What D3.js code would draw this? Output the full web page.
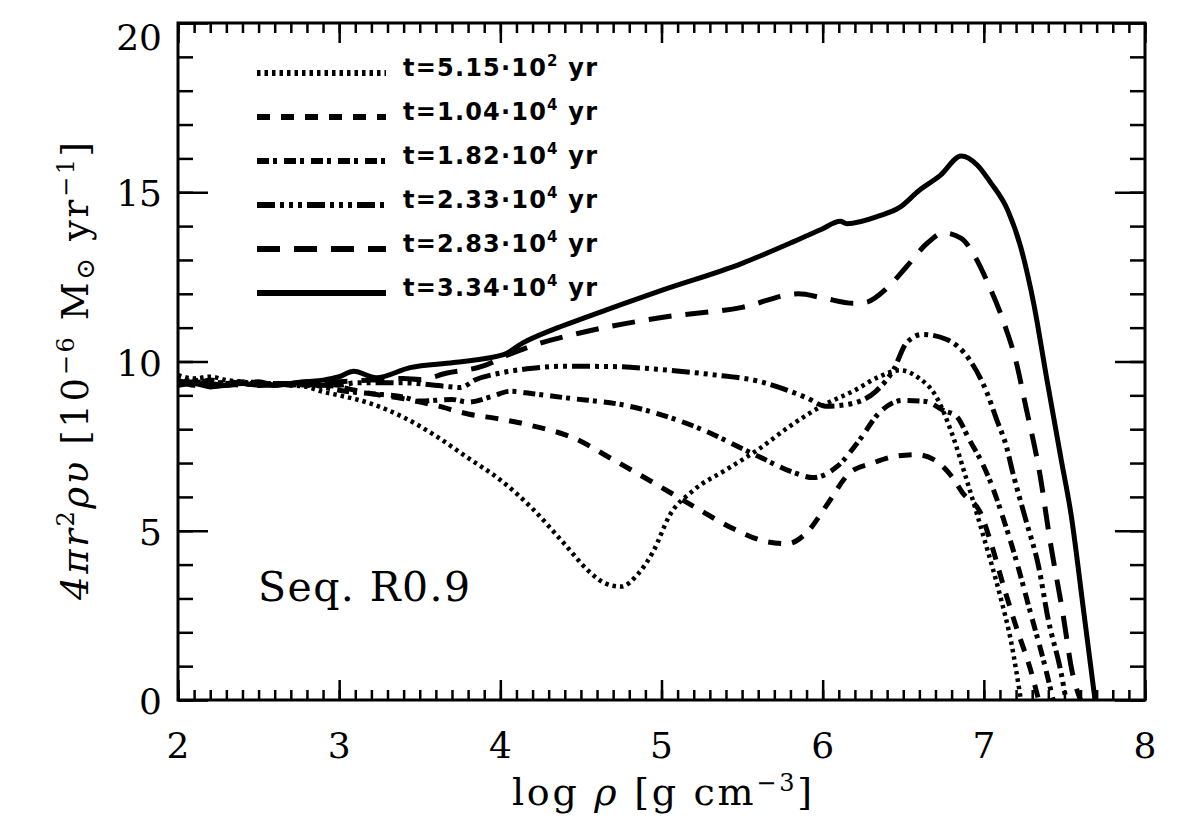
<!DOCTYPE html>
<html>
<head>
<meta charset="utf-8">
<script src="https://cdn.jsdelivr.net/npm/d3@7"></script>
<style>
  html, body { margin: 0; padding: 0; background: #fff; }
  svg { display: block; }
</style>
</head>
<body>
<div id="chart"></div>
<script>
// data -----------------------------------------------------------
var seriesLabels = ["5.15", "1.04", "1.82", "2.33", "2.83", "3.34"];
var seriesExp = ["2", "4", "4", "4", "4", "4"];

var xDot = [2.0,2.1,2.2,2.3,2.4,2.5,2.6,2.7,2.8,2.9,3.0,3.2,3.4,3.6,3.8,4.0,4.2,4.4,4.55,4.65,4.75,4.85,4.95,5.05,5.2,5.4,5.6,5.8,6.0,6.2,6.35,6.48,6.6,6.7,6.8,6.9,7.0,7.1,7.17,7.23];
var yDot = [9.6,9.5,9.55,9.45,9.4,9.35,9.35,9.3,9.25,9.1,9.0,8.75,8.35,7.8,7.15,6.5,5.65,4.6,3.8,3.45,3.35,3.7,4.4,5.45,6.2,6.8,7.4,8.1,8.7,9.15,9.55,9.74,9.5,9.0,7.9,6.4,4.8,3.1,1.7,0];

var xDash = [2.0,2.1,2.2,2.3,2.4,2.5,2.6,2.7,2.8,2.9,3.0,3.1,3.2,3.4,3.6,3.8,4.0,4.2,4.45,4.7,4.95,5.2,5.45,5.65,5.78,5.9,6.02,6.17,6.31,6.45,6.58,6.69,6.8,6.87,6.98,7.05,7.12,7.2,7.29,7.34];
var yDash = [9.4,9.35,9.45,9.35,9.3,9.35,9.3,9.35,9.3,9.3,9.25,9.15,9.05,8.9,8.7,8.45,8.3,8.1,7.75,7.1,6.42,5.72,5.05,4.68,4.62,4.94,5.72,6.72,7.0,7.2,7.25,7.1,6.61,6.11,5.52,4.55,3.4,2.17,0.89,0];

var xDashDot = [2.0,2.1,2.2,2.3,2.4,2.5,2.6,2.7,2.8,2.9,3.0,3.2,3.4,3.5,3.7,3.8,3.95,4.06,4.2,4.4,4.8,5.2,5.6,5.82,5.94,6.09,6.23,6.35,6.5,6.64,6.75,6.83,6.91,7.0,7.06,7.11,7.2,7.29,7.38,7.43];
var yDashDot = [9.35,9.45,9.3,9.4,9.35,9.3,9.35,9.3,9.35,9.25,9.15,9.05,8.95,8.83,8.88,8.8,8.97,9.12,9.05,8.93,8.68,8.09,7.2,6.72,6.57,6.9,7.69,8.48,8.85,8.82,8.55,8.38,7.69,6.9,6.21,5.52,4.14,2.57,0.99,0];

var xDash3Dot = [2.0,2.1,2.2,2.3,2.4,2.5,2.6,2.7,2.8,2.9,3.0,3.1,3.4,3.65,3.75,3.85,4.0,4.2,4.4,4.7,5.0,5.3,5.6,5.9,6.02,6.15,6.33,6.44,6.52,6.62,6.77,6.91,7.02,7.08,7.14,7.18,7.26,7.34,7.4,7.48,7.51];
var yDash3Dot = [9.45,9.3,9.4,9.35,9.4,9.3,9.35,9.35,9.3,9.35,9.3,9.37,9.37,9.27,9.23,9.47,9.66,9.8,9.86,9.85,9.76,9.62,9.42,8.93,8.68,8.73,9.12,9.76,10.55,10.8,10.65,10.06,9.07,8.28,7.49,6.71,5.33,3.94,2.37,0.79,0];

var xLongDash = [2.0,2.1,2.2,2.3,2.4,2.5,2.6,2.7,2.8,2.9,3.0,3.2,3.4,3.5,3.67,3.89,4.05,4.22,4.5,5.0,5.5,5.85,6.0,6.19,6.27,6.4,6.52,6.65,6.75,6.86,6.94,7.02,7.13,7.2,7.26,7.35,7.41,7.49,7.55,7.6];
var yLongDash = [9.3,9.4,9.35,9.3,9.35,9.4,9.3,9.35,9.4,9.35,9.4,9.45,9.5,9.47,9.66,9.86,10.2,10.5,10.85,11.3,11.6,12.0,11.88,11.72,11.75,12.17,12.8,13.5,13.8,13.64,13.14,12.37,11.07,10.0,8.68,6.61,4.73,2.57,0.79,0];

var xSolid = [2.0,2.1,2.2,2.3,2.4,2.5,2.6,2.7,2.8,2.9,3.0,3.09,3.23,3.44,3.71,4.02,4.14,4.33,4.5,5.0,5.5,5.8,5.99,6.11,6.15,6.35,6.48,6.6,6.73,6.86,6.96,7.04,7.15,7.23,7.31,7.39,7.48,7.54,7.62,7.69];
var ySolid = [9.3,9.35,9.25,9.3,9.35,9.3,9.3,9.35,9.4,9.45,9.55,9.71,9.52,9.82,9.97,10.2,10.55,10.95,11.25,12.1,12.9,13.5,13.9,14.14,14.07,14.3,14.56,15.06,15.5,16.07,15.8,15.3,14.45,13.36,11.7,9.5,7.1,5.52,2.6,0];

var xMajor = [2, 3, 4, 5, 6, 7, 8];
var yMajor = [0, 5, 10, 15, 20];

// layout ----------------------------------------------------------
var width = 1179, height = 825;
var plot = {left: 178, right: 1145, top: 23, bottom: 700};

var x = d3.scaleLinear().domain([2, 8]).range([plot.left, plot.right]);
var y = d3.scaleLinear().domain([0, 20]).range([plot.bottom, plot.top]);

var seriesX = [xDot, xDash, xDashDot, xDash3Dot, xLongDash, xSolid];
var seriesY = [yDot, yDash, yDashDot, yDash3Dot, yLongDash, ySolid];
var dashes = ["3.5,4", "13,11", "12,4,4,7", "18,5,4,5,4,5,4,5", "23,14", null];
var widths = [4.5, 5, 5, 5, 5, 5];

var svg = d3.select("#chart").append("svg")
  .attr("width", width)
  .attr("height", height);

svg.append("defs").append("clipPath")
  .attr("id", "plotclip")
  .append("rect")
  .attr("x", plot.left)
  .attr("y", plot.top)
  .attr("width", plot.right - plot.left)
  .attr("height", plot.bottom - plot.top);

// curves
var line = d3.line()
  .x(function(d) { return x(d[0]); })
  .y(function(d) { return y(d[1]); })
  .curve(d3.curveMonotoneX);

var curves = svg.append("g").attr("clip-path", "url(#plotclip)");

seriesX.forEach(function(xs, i) {
  var pts = xs.map(function(v, j) { return [v, seriesY[i][j]]; });
  curves.append("path")
    .attr("d", line(pts))
    .attr("fill", "none")
    .attr("stroke", "#000")
    .attr("stroke-width", widths[i])
    .attr("stroke-dasharray", dashes[i]);
});

// axes ------------------------------------------------------------
var minorX = d3.range(20, 81).map(function(v) { return v / 10; });
var minorY = d3.range(0, 21);

function styleTicks(g) {
  g.select(".domain").remove();
  g.selectAll("line").attr("stroke", "#000").attr("stroke-width", 2.5);
}

svg.append("g").attr("transform", "translate(0," + plot.bottom + ")")
  .call(d3.axisBottom(x).tickValues(minorX).tickSize(-10).tickFormat(""))
  .call(styleTicks);
svg.append("g").attr("transform", "translate(0," + plot.bottom + ")")
  .call(d3.axisBottom(x).tickValues(xMajor).tickSize(-20).tickFormat(""))
  .call(styleTicks);
svg.append("g").attr("transform", "translate(0," + plot.top + ")")
  .call(d3.axisTop(x).tickValues(minorX).tickSize(-10).tickFormat(""))
  .call(styleTicks);
svg.append("g").attr("transform", "translate(0," + plot.top + ")")
  .call(d3.axisTop(x).tickValues(xMajor).tickSize(-20).tickFormat(""))
  .call(styleTicks);

svg.append("g").attr("transform", "translate(" + plot.left + ",0)")
  .call(d3.axisLeft(y).tickValues(minorY).tickSize(-15).tickFormat(""))
  .call(styleTicks);
svg.append("g").attr("transform", "translate(" + plot.left + ",0)")
  .call(d3.axisLeft(y).tickValues(yMajor).tickSize(-30).tickFormat(""))
  .call(styleTicks);
svg.append("g").attr("transform", "translate(" + plot.right + ",0)")
  .call(d3.axisRight(y).tickValues(minorY).tickSize(-15).tickFormat(""))
  .call(styleTicks);
svg.append("g").attr("transform", "translate(" + plot.right + ",0)")
  .call(d3.axisRight(y).tickValues(yMajor).tickSize(-30).tickFormat(""))
  .call(styleTicks);

svg.append("rect")
  .attr("x", plot.left)
  .attr("y", plot.top)
  .attr("width", plot.right - plot.left)
  .attr("height", plot.bottom - plot.top)
  .attr("fill", "none")
  .attr("stroke", "#000")
  .attr("stroke-width", 3);

// tick labels
var serif = "'DejaVu Serif', serif";

svg.append("g").selectAll("text")
  .data(xMajor)
  .join("text")
  .attr("x", function(d) { return x(d); })
  .attr("y", 758)
  .attr("text-anchor", "middle")
  .style("font-family", serif)
  .style("font-size", "36px")
  .text(function(d) { return d; });

svg.append("g").selectAll("text")
  .data(yMajor)
  .join("text")
  .attr("x", 162)
  .attr("y", function(d) { return y(d) + (d === 20 ? 27 : 14); })
  .attr("text-anchor", "end")
  .style("font-family", serif)
  .style("font-size", "36px")
  .text(function(d) { return d; });

// axis titles
var xt = svg.append("text")
  .attr("x", 662)
  .attr("y", 805)
  .attr("text-anchor", "middle")
  .attr("textLength", 300)
  .attr("lengthAdjust", "spacing")
  .style("font-family", serif)
  .style("font-size", "38px");
xt.append("tspan").text("log ");
xt.append("tspan").style("font-style", "italic").text("ρ");
xt.append("tspan").text(" [g cm");
xt.append("tspan").attr("dy", -14).style("font-size", "24px").text("−3");
xt.append("tspan").attr("dy", 14).text("]");

var yt = svg.append("text")
  .attr("transform", "translate(88,371) rotate(-90)")
  .attr("text-anchor", "middle")
  .attr("textLength", 458)
  .attr("lengthAdjust", "spacing")
  .style("font-family", serif)
  .style("font-size", "37px");
yt.append("tspan").style("font-style", "italic").text("4πr");
yt.append("tspan").attr("dy", -14).style("font-size", "24px").text("2");
yt.append("tspan").attr("dy", 14).style("font-style", "italic").text("ρυ");
yt.append("tspan").text(" [10");
yt.append("tspan").attr("dy", -14).style("font-size", "24px").text("−6");
yt.append("tspan").attr("dy", 14).text(" M");
yt.append("tspan").attr("dy", 6).style("font-size", "26px").text("⊙");
yt.append("tspan").attr("dy", -6).text(" yr");
yt.append("tspan").attr("dy", -14).style("font-size", "24px").text("−1");
yt.append("tspan").attr("dy", 14).text("]");

// legend ----------------------------------------------------------
var legendY = [73, 117, 161, 205, 249, 293];

var legend = svg.append("g");
seriesLabels.forEach(function(lab, i) {
  legend.append("line")
    .attr("x1", 257)
    .attr("x2", 386)
    .attr("y1", legendY[i])
    .attr("y2", legendY[i])
    .attr("stroke", "#000")
    .attr("stroke-width", i === 5 ? 6 : 6)
    .attr("stroke-dasharray", dashes[i]);

  var t = legend.append("text")
    .attr("x", 403)
    .attr("y", legendY[i] + 3)
    .attr("textLength", 194)
    .attr("lengthAdjust", "spacing")
    .style("font-family", "'DejaVu Sans', sans-serif")
    .style("font-weight", "bold")
    .style("font-size", "24px");
  t.append("tspan").text("t=" + lab + "·10");
  t.append("tspan").attr("dy", -10).style("font-size", "15px").text(seriesExp[i]);
  t.append("tspan").attr("dy", 10).text(" yr");
});

// label
svg.append("text")
  .attr("x", 258)
  .attr("y", 601)
  .attr("textLength", 212)
  .attr("lengthAdjust", "spacing")
  .style("font-family", serif)
  .style("font-size", "41px")
  .text("Seq. R0.9");
</script>
</body>
</html>
